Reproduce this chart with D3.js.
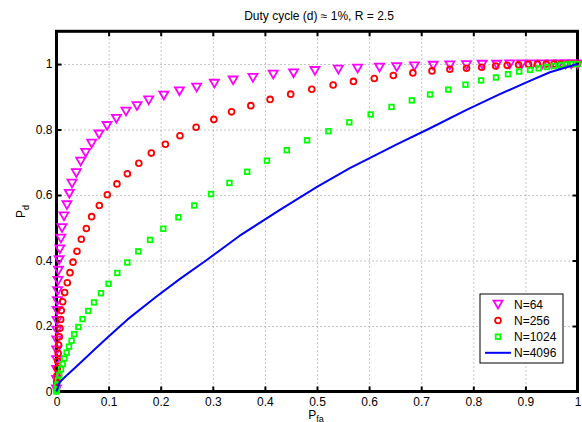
<!DOCTYPE html>
<html>
<head>
<meta charset="utf-8">
<script src="https://cdn.jsdelivr.net/npm/d3@7"></script>
<style>
  html, body { margin: 0; padding: 0; background: #fff; }
  svg { display: block; }
  text { font-family: "Liberation Sans", Arial, Helvetica, sans-serif; }
</style>
</head>
<body>
<svg id="chart" width="582" height="422"></svg>
<script>
// ---- data ----
const titleText = "Duty cycle (d) \u2248 1%, R = 2.5";
const xTicks = [0, 0.1, 0.2, 0.3, 0.4, 0.5, 0.6, 0.7, 0.8, 0.9, 1];
const yTicks = [0, 0.2, 0.4, 0.6, 0.8, 1];
const seriesNames = ["N=64", "N=256", "N=1024", "N=4096"];

const n64X = [0, 0.0001, 0.0002, 0.0003, 0.0004, 0.0006, 0.0008, 0.001, 0.0013, 0.0017, 0.0022, 0.0029, 0.0038, 0.005, 0.0065, 0.0085, 0.0106, 0.0144, 0.020, 0.0246, 0.0298, 0.038, 0.0464, 0.056, 0.0675, 0.0816, 0.097, 0.115, 0.1334, 0.1545, 0.177, 0.206, 0.236, 0.269, 0.303, 0.339, 0.377, 0.416, 0.455, 0.496, 0.541, 0.578, 0.620, 0.653, 0.687, 0.723, 0.755, 0.787, 0.817, 0.845, 0.870, 0.893, 0.914, 0.933, 0.950, 0.964, 0.977, 0.988, 1.0];
const n64Y = [0.008, 0.037, 0.067, 0.097, 0.127, 0.157, 0.187, 0.217, 0.247, 0.277, 0.308, 0.339, 0.370, 0.402, 0.435, 0.468, 0.500, 0.536, 0.570, 0.605, 0.636, 0.668, 0.703, 0.730, 0.758, 0.786, 0.812, 0.834, 0.856, 0.873, 0.890, 0.905, 0.918, 0.929, 0.941, 0.951, 0.959, 0.969, 0.973, 0.980, 0.984, 0.987, 0.990, 0.992, 0.994, 0.996, 0.997, 0.998, 0.999, 0.999, 1.0, 1.0, 1.0, 1.0, 1.0, 1.0, 1.0, 1.0, 1.0];

const n256X = [0, 0.0003, 0.0008, 0.0015, 0.0023, 0.0032, 0.004, 0.0054, 0.0067, 0.008, 0.0092, 0.0119, 0.0157, 0.0207, 0.0259, 0.0317, 0.0393, 0.0476, 0.0573, 0.0675, 0.0822, 0.0975, 0.116, 0.136, 0.158, 0.182, 0.209, 0.237, 0.268, 0.302, 0.336, 0.373, 0.410, 0.4495, 0.490, 0.531, 0.570, 0.610, 0.6465, 0.684, 0.7207, 0.755, 0.787, 0.816, 0.843, 0.865, 0.887, 0.906, 0.923, 0.940, 0.955, 0.968, 0.980, 0.990, 1.0];
const n256Y = [0.008, 0.028, 0.048, 0.070, 0.093, 0.117, 0.142, 0.167, 0.193, 0.220, 0.247, 0.274, 0.302, 0.332, 0.363, 0.395, 0.428, 0.465, 0.498, 0.534, 0.568, 0.601, 0.634, 0.665, 0.697, 0.728, 0.755, 0.781, 0.807, 0.831, 0.854, 0.873, 0.892, 0.908, 0.923, 0.936, 0.947, 0.956, 0.965, 0.973, 0.979, 0.984, 0.987, 0.990, 0.994, 0.996, 0.998, 0.999, 1.0, 1.0, 1.0, 1.0, 1.0, 1.0, 1.0];

const n1024X = [0, 0.0002, 0.0005, 0.001, 0.003, 0.0054, 0.0086, 0.012, 0.015, 0.0195, 0.024, 0.029, 0.034, 0.042, 0.050, 0.061, 0.072, 0.0854, 0.100, 0.1167, 0.136, 0.157, 0.1795, 0.205, 0.234, 0.2645, 0.2966, 0.332, 0.366, 0.404, 0.442, 0.481, 0.522, 0.562, 0.603, 0.643, 0.682, 0.717, 0.752, 0.785, 0.815, 0.8436, 0.8666, 0.888, 0.909, 0.9255, 0.941, 0.955, 0.968, 0.979, 0.990, 1.0];
const n1024Y = [0, 0.003, 0.007, 0.020, 0.035, 0.050, 0.068, 0.084, 0.101, 0.1186, 0.137, 0.155, 0.175, 0.197, 0.221, 0.246, 0.272, 0.300, 0.329, 0.362, 0.394, 0.428, 0.463, 0.497, 0.532, 0.568, 0.603, 0.637, 0.671, 0.705, 0.737, 0.767, 0.795, 0.822, 0.846, 0.869, 0.889, 0.907, 0.922, 0.937, 0.950, 0.959, 0.969, 0.977, 0.982, 0.987, 0.991, 0.994, 0.997, 0.999, 1.0, 1.0];

const n4096X = [0, 0.006, 0.022, 0.048, 0.075, 0.1, 0.137, 0.192, 0.237, 0.287, 0.351, 0.428, 0.5, 0.563, 0.6, 0.655, 0.717, 0.787, 0.851, 0.903, 0.947, 1.0];
const n4096Y = [0, 0.028, 0.053, 0.091, 0.131, 0.168, 0.221, 0.29, 0.344, 0.4, 0.475, 0.554, 0.625, 0.682, 0.712, 0.756, 0.804, 0.86, 0.908, 0.945, 0.975, 1.0];

// ---- layout ----
const svg = d3.select("#chart");
const x = d3.scaleLinear().domain([0, 1]).range([56.5, 577.5]);
const y = d3.scaleLinear().domain([0, 1.1]).range([391.5, 31.3]);
const [X0, X1] = x.range();
const [Y0, Y1] = y.range();
const fontSize = 12;

// background
svg.append("rect").attr("x", 0).attr("y", 0).attr("width", 582).attr("height", 422).attr("fill", "#fff");

// grid
const gridStyle = g => g.selectAll("line").attr("stroke", "#8c8c8c").attr("stroke-width", 1).attr("stroke-dasharray", "1,3");
svg.append("g")
  .attr("transform", `translate(0,${Y0})`)
  .call(d3.axisBottom(x).tickValues(xTicks.filter(v => v > 0 && v < 1)).tickSize(-(Y0 - Y1)).tickFormat(""))
  .call(g => g.select(".domain").remove())
  .call(gridStyle);
svg.append("g")
  .attr("transform", `translate(${X0},0)`)
  .call(d3.axisLeft(y).tickValues(yTicks.filter(v => v > 0)).tickSize(-(X1 - X0)).tickFormat(""))
  .call(g => g.select(".domain").remove())
  .call(gridStyle);

// axes (ticks inward on all four sides)
const fmt = d => String(d);
const styleAxis = g => {
  g.select(".domain").remove();
  g.selectAll(".tick line").attr("stroke", "#000").attr("stroke-width", 2);
  g.selectAll(".tick text").attr("fill", "#000").attr("font-size", fontSize)
    .attr("font-family", '"Liberation Sans", Arial, sans-serif');
};
svg.append("g").attr("transform", `translate(0,${Y0})`)
  .call(d3.axisBottom(x).tickValues(xTicks).tickSize(-5).tickPadding(6).tickFormat(fmt)).call(styleAxis);
svg.append("g").attr("transform", `translate(0,${Y1})`)
  .call(d3.axisTop(x).tickValues(xTicks).tickSize(-5).tickFormat("")).call(styleAxis);
svg.append("g").attr("transform", `translate(${X0},0)`)
  .call(d3.axisLeft(y).tickValues(yTicks).tickSize(-5).tickPadding(4).tickFormat(fmt)).call(styleAxis);
svg.append("g").attr("transform", `translate(${X1},0)`)
  .call(d3.axisRight(y).tickValues(yTicks).tickSize(-5).tickFormat("")).call(styleAxis);

// frame
svg.append("rect")
  .attr("x", X0).attr("y", Y1).attr("width", X1 - X0).attr("height", Y0 - Y1)
  .attr("fill", "none").attr("stroke", "#000").attr("stroke-width", 3);

// title
svg.append("text").attr("x", (X0 + X1) / 2 + 2).attr("y", 20)
  .attr("text-anchor", "middle").attr("font-size", fontSize).attr("fill", "#000")
  .text(titleText);

// axis labels
const xl = svg.append("text").attr("x", 316).attr("y", 418.5)
  .attr("text-anchor", "middle").attr("font-size", fontSize).attr("fill", "#000");
xl.append("tspan").text("P");
xl.append("tspan").attr("dy", 3).attr("font-size", 9).text("fa");

const yl = svg.append("text").attr("transform", `translate(25,${(Y0 + Y1) / 2}) rotate(-90)`)
  .attr("text-anchor", "middle").attr("font-size", fontSize).attr("fill", "#000");
yl.append("tspan").text("P");
yl.append("tspan").attr("dy", 4).attr("font-size", 9).text("d");

// markers
const triPath = "M-4.5,-3.6L4.5,-3.6L0,4.2Z";
function drawTri(g, cx, cy) {
  g.append("path").attr("d", triPath).attr("transform", `translate(${cx},${cy})`)
    .attr("fill", "none").attr("stroke", "#ff00ff").attr("stroke-width", 1.8).attr("stroke-linejoin", "miter");
}
function drawCirc(g, cx, cy) {
  g.append("circle").attr("cx", cx).attr("cy", cy).attr("r", 2.9)
    .attr("fill", "none").attr("stroke", "#ff0000").attr("stroke-width", 1.8);
}
function drawSq(g, cx, cy) {
  g.append("rect").attr("x", cx - 2.3).attr("y", cy - 2.3).attr("width", 4.6).attr("height", 4.6)
    .attr("fill", "none").attr("stroke", "#00ff00").attr("stroke-width", 1.8);
}

const gTri = svg.append("g");
n64X.forEach((v, i) => drawTri(gTri, x(v), y(n64Y[i])));
const gCirc = svg.append("g");
n256X.forEach((v, i) => drawCirc(gCirc, x(v), y(n256Y[i])));
const gSq = svg.append("g");
n1024X.forEach((v, i) => drawSq(gSq, x(v), y(n1024Y[i])));

const line = d3.line().x(d => x(d[0])).y(d => y(d[1]));
svg.append("path").datum(n4096X.map((v, i) => [v, n4096Y[i]]))
  .attr("d", line).attr("fill", "none").attr("stroke", "#0000ff").attr("stroke-width", 2)
  .attr("stroke-linejoin", "round");

// legend
const lg = svg.append("g");
lg.append("rect").attr("x", 480).attr("y", 294).attr("width", 83).attr("height", 69)
  .attr("fill", "#fff").attr("stroke", "#000").attr("stroke-width", 1);
const rows = [304.3, 320.5, 336.7, 352.8];
drawTri(lg, 498, rows[0]);
drawCirc(lg, 498, rows[1]);
drawSq(lg, 498, rows[2]);
lg.append("line").attr("x1", 485).attr("x2", 511).attr("y1", rows[3]).attr("y2", rows[3])
  .attr("stroke", "#0000ff").attr("stroke-width", 2);
seriesNames.forEach((s, i) => {
  lg.append("text").attr("x", 514).attr("y", rows[i]).attr("dy", "0.36em")
    .attr("font-size", fontSize).attr("fill", "#000").text(s);
});
</script>
</body>
</html>
